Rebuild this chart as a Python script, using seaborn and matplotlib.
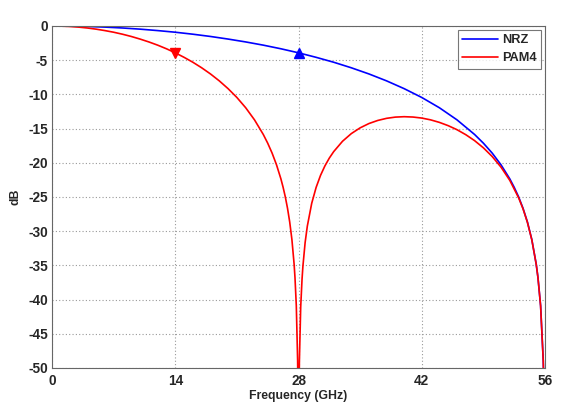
import numpy as np
import pandas as pd
import matplotlib
matplotlib.use("Agg")
import matplotlib.pyplot as plt
import seaborn as sns

# NRZ response (GHz, dB)
nrz_f = [0, 2, 4, 6, 8, 10, 12, 14, 16, 18, 20, 22, 24, 26, 28, 30, 32, 34, 36, 38,
         40, 42, 44, 46, 48, 49, 50, 51, 52, 52.5, 53, 53.5, 54, 54.5, 55, 55.2, 55.5,
         55.8, 56]
nrz_db = [0, -0.02, -0.07, -0.16, -0.29, -0.46, -0.67, -0.91, -1.20, -1.53, -1.91,
          -2.33, -2.80, -3.33, -3.92, -4.58, -5.30, -6.11, -7.01, -8.02, -9.16,
          -10.45, -11.95, -13.72, -15.86, -17.13, -18.58, -20.29, -22.35, -23.58,
          -24.98, -26.64, -28.65, -31.22, -34.81, -36.78, -40.9, -48.9, -60]

# PAM4 response (GHz, dB)
pam_f = [0, 1, 2, 3, 4, 5, 6, 7, 8, 9, 10, 11, 12, 13, 14, 15, 16, 17, 18, 19, 20,
         21, 22, 23, 24, 24.5, 25, 25.5, 26, 26.25, 26.5, 26.75, 27, 27.25, 27.5,
         27.6, 27.75, 27.9, 27.95, 28, 28.05, 28.1, 28.25, 28.4, 28.5, 28.75, 29,
         29.5, 30, 30.5, 31, 31.5, 32, 33, 34, 35, 36, 37, 38, 39, 40, 41, 42, 43,
         44, 45, 46, 47, 48, 49, 50, 51, 52, 53, 53.5, 54, 54.5, 55, 55.2, 55.5,
         55.8, 56]
pam_db = [0, -0.02, -0.07, -0.16, -0.29, -0.46, -0.67, -0.91, -1.20, -1.53, -1.91,
          -2.33, -2.80, -3.33, -3.92, -4.58, -5.30, -6.11, -7.01, -8.02, -9.16,
          -10.45, -11.95, -13.72, -15.86, -17.13, -18.58, -20.29, -22.35, -23.58,
          -24.98, -26.64, -28.65, -31.22, -34.81, -36.78, -40.9, -48.9, -54.9, -70,
          -55.0, -48.97, -41.06, -37.03, -35.12, -31.68, -29.27, -25.92, -23.60,
          -21.84, -20.45, -19.31, -18.36, -16.85, -15.73, -14.89, -14.26, -13.81,
          -13.50, -13.32, -13.26, -13.31, -13.46, -13.72, -14.09, -14.57, -15.16,
          -15.89, -16.76, -17.81, -19.08, -20.63, -22.57, -25.11, -26.72, -28.70,
          -31.25, -34.83, -36.79, -40.91, -48.91, -60]

# Markers
nrz_mark_f, nrz_mark_db = [28], [-3.92]
pam_mark_f, pam_mark_db = [14], [-3.92]

x_ticks = [0, 14, 28, 42, 56]
y_ticks = [0, -5, -10, -15, -20, -25, -30, -35, -40, -45, -50]

sns.set_theme(style="white")
plt.rcParams['font.family'] = ['Liberation Sans', 'DejaVu Sans']
plt.rcParams['font.weight'] = 'bold'

fig = plt.figure(figsize=(5.61, 4.12), dpi=100)
ax = fig.add_axes([0.0927, 0.1068, 0.8788, 0.8301])

df = pd.concat([
    pd.DataFrame({"f": nrz_f, "dB": nrz_db, "s": "NRZ"}),
    pd.DataFrame({"f": pam_f, "dB": pam_db, "s": "PAM4"}),
])
sns.lineplot(data=df, x="f", y="dB", hue="s", palette={"NRZ": "#0000ff", "PAM4": "#ff0000"},
             linewidth=1.2, ax=ax, sort=False, estimator=None)
ax.plot(nrz_mark_f, nrz_mark_db, marker="^", color="#0000ff", markersize=7, linestyle="none")
ax.plot(pam_mark_f, pam_mark_db, marker="v", color="#ff0000", markersize=7, linestyle="none")

ax.set_xlim(0, 56)
ax.set_ylim(-50, 0)
ax.set_xticks(x_ticks)
ax.set_yticks(y_ticks)
ax.set_xticklabels([str(t) for t in x_ticks], fontsize=9.8, fontweight='bold')
ax.set_yticklabels([str(t) for t in y_ticks], fontsize=9.8, fontweight='bold')
ax.tick_params(axis="x", direction="in", length=3, color="#555555", pad=4)
ax.tick_params(axis="y", direction="in", length=3, color="#555555", pad=3)
ax.grid(True, linestyle=(0, (1, 2)), color="#999999", linewidth=0.8)
for sp in ax.spines.values():
    sp.set_color("#666666")
    sp.set_linewidth(0.8)
ax.set_xlabel("Frequency (GHz)", fontsize=8.8, fontweight='bold', labelpad=2)
ax.set_ylabel("dB", fontsize=8.8, fontweight='bold', labelpad=5)

leg = ax.legend(loc="upper right", fontsize=9.2, frameon=True, fancybox=False,
                handlelength=2.8, borderpad=0.35, labelspacing=0.45, handletextpad=0.3,
                borderaxespad=0.3)
leg.get_frame().set_edgecolor("#555555")
leg.get_frame().set_linewidth(0.8)
for t in leg.get_texts():
    t.set_fontweight('bold')

fig.savefig("out.png", dpi=100)
